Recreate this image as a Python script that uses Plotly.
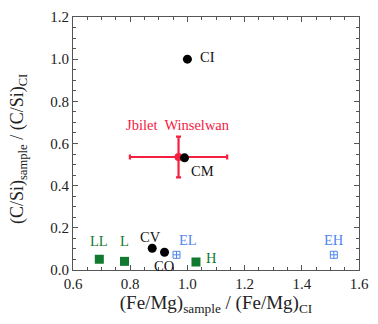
import plotly.graph_objects as go

# Carbonaceous chondrites (black circles)
cc_names = ["CI", "CM", "CV", "CO"]
cc_x = [1.00, 0.99, 0.877, 0.92]
cc_y = [1.00, 0.532, 0.103, 0.084]

# Ordinary chondrites (green squares)
oc_names = ["LL", "L", "H"]
oc_x = [0.692, 0.780, 1.030]
oc_y = [0.051, 0.041, 0.038]

# Enstatite chondrites (blue crossed squares)
ec_names = ["EL", "EH"]
ec_x = [0.962, 1.512]
ec_y = [0.072, 0.072]

# Jbilet Winselwan with uncertainties
jw_name = "Jbilet  Winselwan"
jw_x = [0.969]
jw_y = [0.536]
jw_xerr = [0.17]
jw_yerr = [0.097]

FONT = "Liberation Serif, Times New Roman, serif"
RED = "#f5203f"
GREEN = "#127a2e"
BLUE = "#4f86f0"
LABEL_SIZE = 14.5

# label offsets in pixels (dx right, dy up) relative to each marker
cc_off = [(20, 2), (18, -13), (-2, 11), (-1, -14)]
oc_off = [(0, 18), (0, 20), (16, 4)]
ec_off = [(11, 15), (0, 15)]

fig = go.Figure()

fig.add_trace(go.Scatter(
    x=jw_x, y=jw_y, mode="markers",
    marker=dict(color=RED, size=8),
    error_x=dict(type="data", array=jw_xerr, color=RED, thickness=2.2, width=2.5),
    error_y=dict(type="data", array=jw_yerr, color=RED, thickness=2.2, width=2.5),
    showlegend=False,
))

fig.add_trace(go.Scatter(
    x=cc_x, y=cc_y, mode="markers",
    marker=dict(color="black", size=9), showlegend=False,
))

fig.add_trace(go.Scatter(
    x=oc_x, y=oc_y, mode="markers",
    marker=dict(color=GREEN, size=9, symbol="square"), showlegend=False,
))

fig.add_trace(go.Scatter(
    x=ec_x, y=ec_y, mode="markers",
    marker=dict(color=BLUE, size=7, symbol="square-cross-open", line=dict(width=1)),
    showlegend=False,
))


def add_labels(names, xs, ys, offs, color):
    for name, x, y, (dx, dy) in zip(names, xs, ys, offs):
        fig.add_annotation(
            x=x, y=y, text=name, showarrow=False, xshift=dx, yshift=dy,
            font=dict(family=FONT, size=LABEL_SIZE, color=color),
        )


add_labels(cc_names, cc_x, cc_y, cc_off, "#111111")
add_labels(oc_names, oc_x, oc_y, oc_off, GREEN)
add_labels(ec_names, ec_x, ec_y, ec_off, BLUE)

fig.add_annotation(
    x=jw_x[0], y=jw_y[0], text=jw_name, showarrow=False,
    xshift=-1, yshift=32, font=dict(family=FONT, size=LABEL_SIZE, color=RED),
)

# vertical axis title
fig.add_annotation(
    xref="paper", yref="paper", x=-0.188, y=0.479, xanchor="center", yanchor="middle",
    text="(C/Si)<sub>sample</sub> / (C/Si)<sub>CI</sub>", textangle=-90, showarrow=False,
    font=dict(family=FONT, size=18, color="#222222"),
)

axis_common = dict(
    showgrid=False, zeroline=False, showline=True, linecolor="#555555", linewidth=1,
    mirror="ticks", ticks="inside", ticklen=5, tickcolor="#555555",
    tickfont=dict(family=FONT, size=15, color="#222222"),
    minor=dict(ticks="inside", ticklen=3, tickcolor="#555555"),
)

fig.update_layout(
    width=378, height=324,
    margin=dict(l=73, r=12, t=9, b=54),
    paper_bgcolor="white", plot_bgcolor="white",
    xaxis=dict(range=[0.6, 1.6], tick0=0.6, dtick=0.2, tickformat=".1f",
               minor_dtick=0.05,
               title=dict(text="(Fe/Mg)<sub>sample</sub> / (Fe/Mg)<sub>CI</sub>",
                          font=dict(family=FONT, size=19, color="#222222"), standoff=2),
               **axis_common),
    yaxis=dict(range=[0, 1.2], tick0=0, dtick=0.2, tickformat=".1f",
               minor_dtick=0.05, **axis_common),
)

fig.write_html("out.html")
